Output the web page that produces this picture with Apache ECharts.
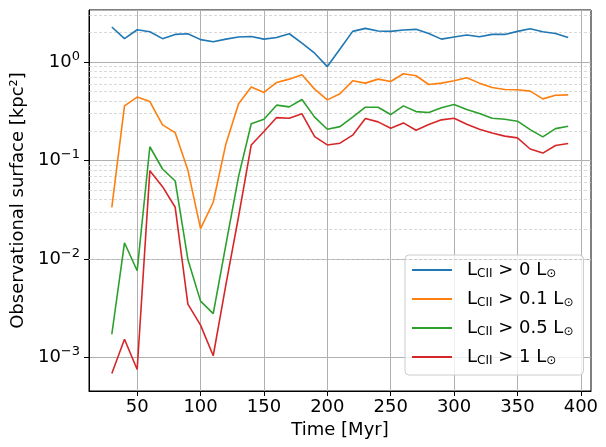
<!DOCTYPE html>
<html>
<head>
<meta charset="utf-8">
<script src="https://cdn.jsdelivr.net/npm/echarts@6/dist/echarts.min.js"></script>
<style>
  html, body { margin: 0; padding: 0; background: #fff; }
  #chart { width: 606px; height: 447px; }
</style>
</head>
<body>
<div id="chart"></div>
<script>
// time in Myr
const times = [30, 40, 50, 60, 70, 80, 90, 100, 110, 120, 130, 140, 150, 160, 170, 180, 190, 200, 210,
  220, 230, 240, 250, 260, 270, 280, 290, 300, 310, 320, 330, 340, 350, 360, 370, 380, 390];

// observational surface [kpc^2] per luminosity threshold
const surfGt0 = [2.27, 1.73, 2.13, 2.03, 1.73, 1.91, 1.94, 1.69, 1.61, 1.71, 1.80, 1.82, 1.71, 1.78, 1.94, 1.56, 1.23, 0.90, 1.36,
  2.05, 2.20, 2.07, 2.05, 2.12, 2.15, 1.95, 1.71, 1.80, 1.88, 1.81, 1.91, 1.91, 2.05, 2.18, 2.03, 1.95, 1.78];
const surfGt01 = [0.0335, 0.359, 0.441, 0.397, 0.230, 0.192, 0.080, 0.0203, 0.0377, 0.1475, 0.377, 0.557, 0.491, 0.621, 0.671, 0.743, 0.531, 0.413, 0.476,
  0.645, 0.611, 0.671, 0.635, 0.760, 0.726, 0.592, 0.611, 0.645, 0.692, 0.611, 0.552, 0.526, 0.523, 0.507, 0.423, 0.461, 0.464];
const surfGt05 = [0.00172, 0.0146, 0.0076, 0.138, 0.082, 0.062, 0.0099, 0.00373, 0.00279, 0.014, 0.069, 0.236, 0.263, 0.365, 0.351, 0.417, 0.276, 0.208, 0.221,
  0.276, 0.348, 0.348, 0.293, 0.359, 0.314, 0.307, 0.343, 0.370, 0.330, 0.300, 0.269, 0.263, 0.251, 0.206, 0.174, 0.211, 0.223];
const surfGt1 = [0.000686, 0.00153, 0.000753, 0.0789, 0.0543, 0.0335, 0.00348, 0.00213, 0.00104, 0.0055, 0.027, 0.144, 0.197, 0.273, 0.269, 0.298, 0.175, 0.144, 0.150,
  0.181, 0.267, 0.247, 0.213, 0.241, 0.203, 0.232, 0.259, 0.269, 0.234, 0.208, 0.190, 0.177, 0.170, 0.131, 0.119, 0.142, 0.149];

const thresholds = ['0', '0.1', '0.5', '1'];
const colors = ['#1f77b4', '#ff7f0e', '#2ca02c', '#d62728'];
const xTicks = [50, 100, 150, 200, 250, 300, 350, 400];
// minor log gridlines (2..9 x decade)
const minorGrid = [0.0005, 0.0006, 0.0007, 0.0008, 0.0009,
  0.002, 0.003, 0.004, 0.005, 0.006, 0.007, 0.008, 0.009,
  0.02, 0.03, 0.04, 0.05, 0.06, 0.07, 0.08, 0.09,
  0.2, 0.3, 0.4, 0.5, 0.6, 0.7, 0.8, 0.9,
  2, 3];

const font = 'DejaVu Sans';
const pairs = arr => times.map((t, i) => [t, arr[i]]);
const allSeries = [surfGt0, surfGt01, surfGt05, surfGt1];

const chart = echarts.init(document.getElementById('chart'));

const series = allSeries.map((arr, i) => ({
  name: thresholds[i],
  type: 'line',
  data: pairs(arr),
  symbol: 'none',
  z: 5,
  lineStyle: { color: colors[i], width: 1.6 },
  itemStyle: { color: colors[i] }
}));

// dashed minor grid
series.push({
  name: 'minor',
  type: 'line',
  data: [],
  z: 1,
  silent: true,
  markLine: {
    silent: true,
    symbol: 'none',
    label: { show: false },
    lineStyle: { color: '#c8c8c8', type: [3, 2], width: 0.7 },
    data: minorGrid.map(v => ({ yAxis: v }))
  }
});

const option = {
  animation: false,
  backgroundColor: '#fff',
  textStyle: { fontFamily: font },
  grid: {
    left: 89, right: 15, top: 10, bottom: 56,
    show: true, borderColor: '#000', borderWidth: 1
  },
  xAxis: {
    type: 'value',
    min: 12, max: 408,
    name: 'Time [Myr]',
    nameLocation: 'middle',
    nameGap: 28,
    nameTextStyle: { fontSize: 18, color: '#000', fontFamily: font },
    axisLine: { show: true, onZero: false, lineStyle: { color: '#000', width: 1 } },
    axisTick: { show: true, length: 5, customValues: xTicks, lineStyle: { color: '#000' } },
    axisLabel: { customValues: xTicks, fontSize: 18, color: '#000', margin: 7, fontFamily: font },
    splitLine: { show: true, lineStyle: { color: '#b0b0b0', width: 1 } }
  },
  yAxis: {
    type: 'log',
    logBase: 10,
    min: 0.000456, max: 3.38,
    name: 'Observational surface [kpc²]',
    nameLocation: 'middle',
    nameGap: 60,
    nameTextStyle: { fontSize: 18, color: '#000', fontFamily: font },
    axisLine: { show: true, lineStyle: { color: '#000', width: 1 } },
    axisTick: { show: true, length: 5, lineStyle: { color: '#000' } },
    axisLabel: {
      margin: 9,
      showMinLabel: false,
      showMaxLabel: false,
      formatter: v => {
        const e = Math.log10(v);
        const k = Math.round(e);
        if (Math.abs(e - k) > 1e-6) return '';
        return '{b|10}{e|' + (k < 0 ? '\u2212' + (-k) : k) + '}';
      },
      rich: {
        b: { fontSize: 18, lineHeight: 24, color: '#000', fontFamily: font, verticalAlign: 'middle' },
        e: { fontSize: 13, lineHeight: 13, color: '#000', fontFamily: font, verticalAlign: 'top' }
      }
    },
    splitLine: { show: true, lineStyle: { color: '#b0b0b0', width: 1 } }
  },
  legend: {
    data: thresholds,
    orient: 'vertical',
    left: 405,
    top: 255,
    icon: 'rect',
    itemWidth: 40,
    itemHeight: 2,
    itemGap: 10,
    padding: [6, 10, 8, 7],
    backgroundColor: 'rgba(255,255,255,0.8)',
    borderColor: '#cccccc',
    borderWidth: 1,
    borderRadius: 4,
    formatter: name => '{m|L}{s|CII}{m| > ' + name + ' L}{s|\u2299}',
    textStyle: {
      padding: [0, 0, 0, 10],
      rich: {
        m: { fontSize: 18, lineHeight: 20, color: '#000', fontFamily: font, verticalAlign: 'middle' },
        s: { fontSize: 12, lineHeight: 13, color: '#000', fontFamily: font, verticalAlign: 'bottom' }
      }
    }
  },
  series: series
};

chart.setOption(option);
</script>
</body>
</html>
